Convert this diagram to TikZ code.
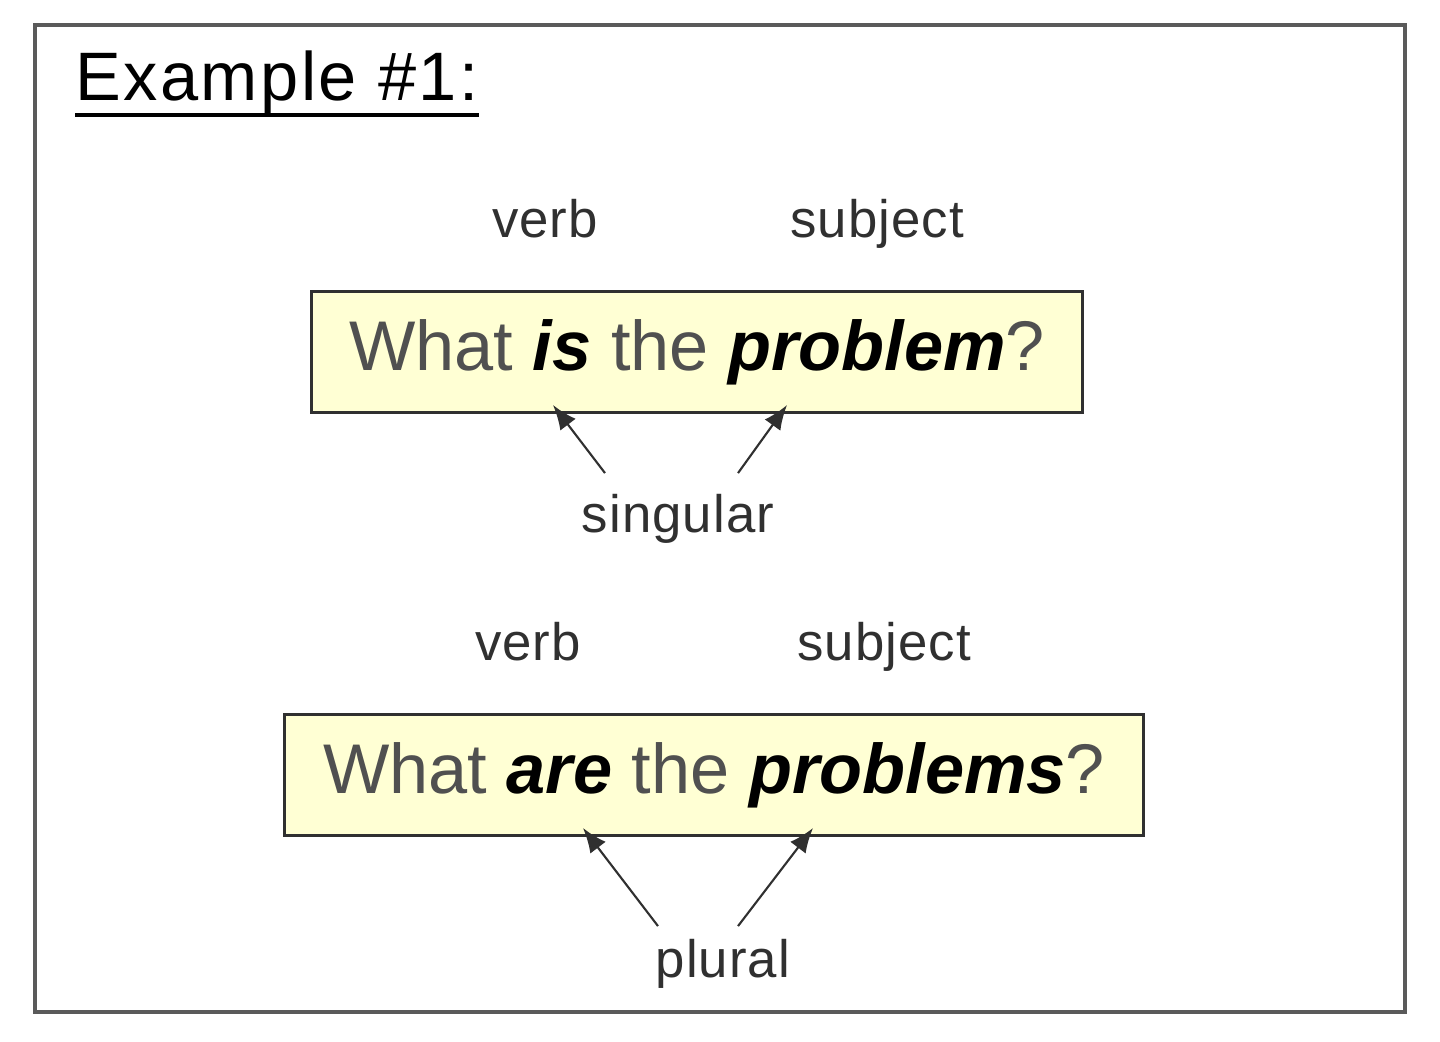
\documentclass[tikz,border=0pt]{standalone}
\usepackage{fontspec}
\setmainfont{Liberation Sans}
\usepackage{tikz}
\usetikzlibrary{arrows.meta,positioning,calc}
\definecolor{framegray}{HTML}{5A5A5A}
\definecolor{boxfill}{HTML}{FFFFD4}
\definecolor{boxline}{HTML}{303030}
\definecolor{textgray}{HTML}{505050}
\newcommand{\hl}[1]{\textcolor{black}{\textbf{\textit{#1}}}}

\begin{document}
\begin{tikzpicture}[x=0.01cm, y=-0.01cm]
\path [use as bounding box] (0,0) rectangle (1440,1041);
\tikzstyle{label} = [inner sep=0pt, anchor=base, text=boxline, font=\fontsize{15}{18}\selectfont\addfontfeature{LetterSpace=2}]
\tikzstyle{sentence} = [draw=boxline, line width=0.85pt, fill=boxfill, minimum height=1.2cm,
  text=textgray, font=\fontsize{20}{24}\selectfont]
\tikzstyle{arr} = [draw=boxline, line width=0.6pt, -{Latex[length=7pt,width=5.5pt]}]
\draw[framegray, line width=0.9pt] (35,25) rectangle (1405,1012);
\node[inner sep=0pt, anchor=base west, font=\fontsize{19.5}{24}\selectfont\addfontfeature{LetterSpace=3.5}] (title) at (75,100) {Example \#1:};
\draw[line width=1.1pt] ([yshift=-0.15cm]title.base west) -- ([yshift=-0.15cm]title.base east);
% first sentence
\node[label] (verbA) at (545,237) {verb};
\node[label] (subjA) at (877,237) {subject};
\node[sentence, minimum width=7.71cm] (boxA) at (697,352) {What \hl{is} the \hl{problem}?};
\node[label] (sing) at (678,532) {singular};
\coordinate (isTip) at (553,405);
\coordinate (probTip) at (787,405);
\draw[arr] ($(sing.north)+(-73,-20)$) -- (isTip);
\draw[arr] ($(sing.north)+(60,-20)$) -- (probTip);
% second sentence
\node[label] (verbB) at (528,660) {verb};
\node[label] (subjB) at (884,660) {subject};
\node[sentence, minimum width=8.58cm] (boxB) at (714,775) {What \hl{are} the \hl{problems}?};
\node[label] (plur) at (723,977) {plural};
\coordinate (areTip) at (583,828);
\coordinate (probsTip) at (813,828);
\draw[arr] ($(plur.north)+(-65,-12)$) -- (areTip);
\draw[arr] ($(plur.north)+(15,-12)$) -- (probsTip);
\end{tikzpicture}
\end{document}
